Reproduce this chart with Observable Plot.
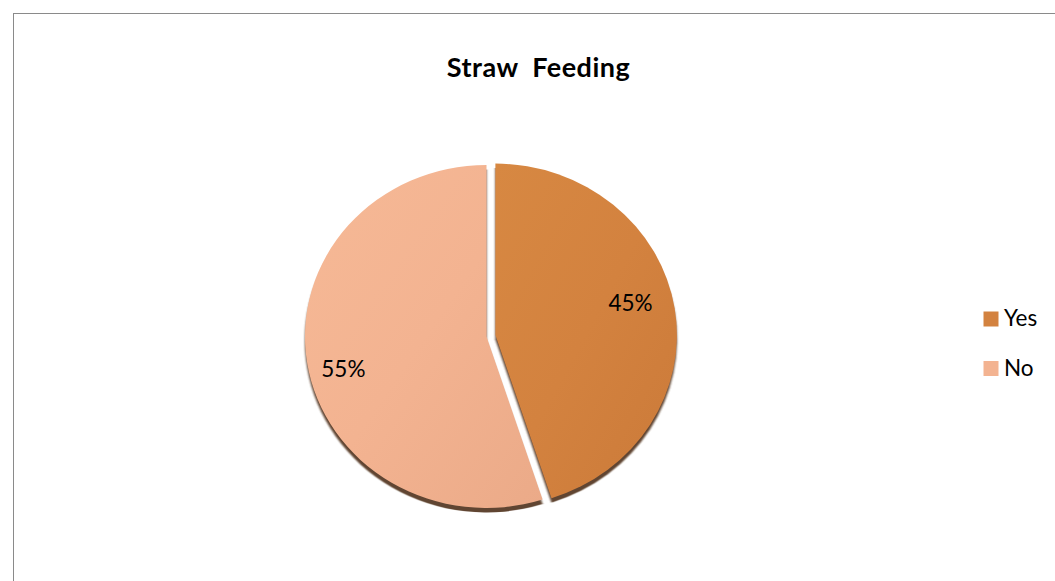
<!DOCTYPE html>
<html>
<head>
<meta charset="utf-8">
<script src="https://cdn.jsdelivr.net/npm/d3@7"></script>
<script src="https://cdn.jsdelivr.net/npm/@observablehq/plot@0.6"></script>
<style>
  html, body { margin: 0; padding: 0; background: #ffffff; }
  #wrap { position: relative; width: 1055px; height: 581px; overflow: hidden; }
  #border { position: absolute; left: 13px; top: 13px; width: 1100px; height: 700px;
            border-left: 1.5px solid #8a8a8a; border-top: 1.5px solid #8a8a8a; pointer-events: none; }
  #chart svg { display: block; }
</style>
</head>
<body>
<div id="wrap"><div id="chart"></div><div id="border"></div></div>
<script>
// ---- data ----
const title = "Straw Feeding";
const categories = ["Yes", "No"];
const values = [45, 55];
const labels = ["45%", "55%"];
const colors = ["#D3823F", "#F3B391"];
const lightColors = ["#D78842", "#F6B996"];
const darkColors = ["#CB7A39", "#EBAA88"];

// ---- layout ----
const W = 1055, H = 581;
const cx = 486.5, cy = 336.5, rx = 181.5, ry = 171.5;
const explode = 9;
const shadowDy = 4.5;
const labelRadius = 0.79, labelAngleShift = -5 * Math.PI / 180, labelDx = -4.5, labelDy = 0.5;
const titleX = 538, titleY = 68;
const legendX = 990.5, legendY = 318.5, legendStep = 49.5, legendSide = 15;

const rows = categories.map((c, i) => ({category: c, value: values[i], label: labels[i], i}));
const arcs = d3.pie().sort(null).value(d => d.value)(rows);
const offsets = arcs.map((a, i) => {
  const m = (a.startAngle + a.endAngle) / 2;
  const e = i === 0 ? explode : 0;
  return [Math.sin(m) * e, -Math.cos(m) * e];
});
const labelData = arcs.map((a, i) => {
  const m = (a.startAngle + a.endAngle) / 2 + labelAngleShift;
  return {
    label: a.data.label,
    x: cx + offsets[i][0] + Math.sin(m) * rx * labelRadius,
    y: cy + offsets[i][1] - Math.cos(m) * ry * labelRadius
  };
});
const legendData = rows.map((d, i) => ({category: d.category, x: legendX, y: legendY + i * legendStep}));

function pieMark(index, scales) {
  const colorOf = (scales && scales.color) ? scales.color : d3.scaleOrdinal(categories, colors);
  const arc = d3.arc().innerRadius(0).outerRadius(rx);
  const g = d3.create("svg:g");
  const defs = g.append("defs");
  rows.forEach((d, i) => {
    const lg = defs.append("linearGradient").attr("id", "grad" + i)
      .attr("x1", "0%").attr("y1", "0%").attr("x2", "100%").attr("y2", "100%");
    lg.append("stop").attr("offset", "0%").attr("stop-color", lightColors[i]);
    lg.append("stop").attr("offset", "50%").attr("stop-color", colorOf(d.category));
    lg.append("stop").attr("offset", "100%").attr("stop-color", darkColors[i]);
  });
  const blur = defs.append("filter").attr("id", "shblur").attr("x", "-10%").attr("y", "-10%").attr("width", "120%").attr("height", "120%");
  blur.append("feGaussianBlur").attr("stdDeviation", 0.8);
  // shadow
  arcs.forEach((a, i) => {
    g.append("path")
      .attr("transform", `translate(${cx + offsets[i][0]},${cy + offsets[i][1] + shadowDy}) scale(1,${ry / rx})`)
      .attr("d", arc(a))
      .attr("fill", "#604530")
      .attr("filter", "url(#shblur)");
  });
  // slices
  arcs.forEach((a, i) => {
    g.append("path")
      .attr("transform", `translate(${cx + offsets[i][0]},${cy + offsets[i][1]}) scale(1,${ry / rx})`)
      .attr("d", arc(a))
      .attr("fill", `url(#grad${i})`);
  });
  return g.node();
}

const plot = Plot.plot({
  width: W,
  height: H,
  margin: 0,
  style: {background: "#ffffff", overflow: "visible"},
  x: {domain: [0, W], range: [0, W], axis: null},
  y: {domain: [0, H], range: [0, H], axis: null},
  color: {domain: categories, range: colors},
  marks: [
    pieMark,
    Plot.text(labelData, {x: "x", y: "y", dx: labelDx, dy: labelDy, text: "label", fontSize: 22.5, fontFamily: "Lato", fill: "#000000"}),
    Plot.text([title], {x: () => titleX, y: () => titleY, text: d => d, fontSize: 27, fontWeight: "bold", fontFamily: "Lato", fill: "#000000"}),
    Plot.dot(legendData, {x: "x", y: "y", fill: "category", symbol: "square", r: legendSide / Math.sqrt(Math.PI)}),
    Plot.text(legendData, {x: d => d.x + 13, y: "y", text: "category", textAnchor: "start", fontSize: 22.5, fontFamily: "Lato", fill: "#000000"})
  ]
});
d3.select(plot).selectAll("text")
  .filter(function () { return this.textContent === title; })
  .style("letter-spacing", "0.5px")
  .style("word-spacing", "7px");
document.getElementById("chart").appendChild(plot);
</script>
</body>
</html>
